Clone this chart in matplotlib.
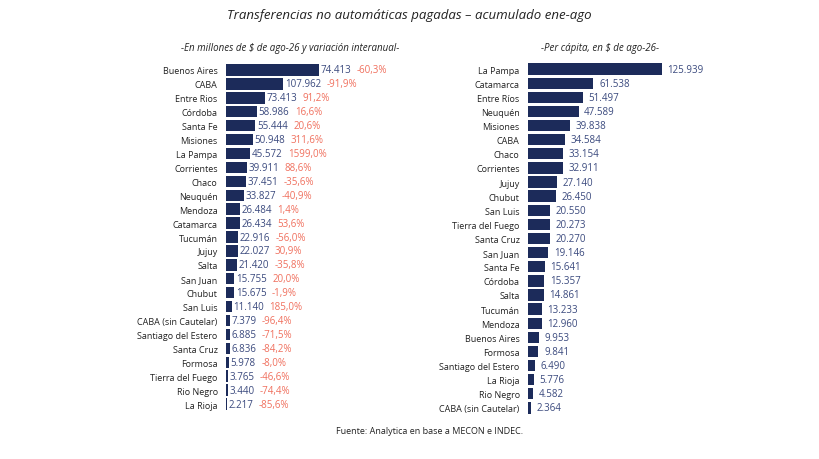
import matplotlib
matplotlib.use("Agg")
import matplotlib.pyplot as plt
from matplotlib.transforms import offset_copy

left_cats = ["Buenos Aires","CABA","Entre Rios","Córdoba","Santa Fe","Misiones","La Pampa","Corrientes","Chaco","Neuquén","Mendoza","Catamarca","Tucumán","Jujuy","Salta","San Juan","Chubut","San Luis","CABA (sin Cautelar)","Santiago del Estero","Santa Cruz","Formosa","Tierra del Fuego","Rio Negro","La Rioja"]
left_vals = [174.413,107.962,73.413,58.986,55.444,50.948,45.572,39.911,37.451,33.827,26.484,26.434,22.916,22.027,21.420,15.755,15.675,11.140,7.379,6.885,6.836,5.978,3.765,3.440,2.217]
left_labels = ["74.413","107.962","73.413","58.986","55.444","50.948","45.572","39.911","37.451","33.827","26.484","26.434","22.916","22.027","21.420","15.755","15.675","11.140","7.379","6.885","6.836","5.978","3.765","3.440","2.217"]
left_var = ["-60,3%","-91,9%","91,2%","16,6%","20,6%","311,6%","1599,0%","88,6%","-35,6%","-40,9%","1,4%","53,6%","-56,0%","30,9%","-35,8%","20,0%","-1,9%","185,0%","-96,4%","-71,5%","-84,2%","-8,0%","-46,6%","-74,4%","-85,6%"]

right_cats = ["La Pampa","Catamarca","Entre Ríos","Neuquén","Misiones","CABA","Chaco","Corrientes","Jujuy","Chubut","San Luis","Tierra del Fuego","Santa Cruz","San Juan","Santa Fe","Córdoba","Salta","Tucumán","Mendoza","Buenos Aires","Formosa","Santiago del Estero","La Rioja","Rio Negro","CABA (sin Cautelar)"]
right_vals = [125.939,61.538,51.497,47.589,39.838,34.584,33.154,32.911,27.140,26.450,20.550,20.273,20.270,19.146,15.641,15.357,14.861,13.233,12.960,9.953,9.841,6.490,5.776,4.582,2.364]

NAVY = "#1c2b5a"
VALC = "#3b4a7e"
PCT = "#f0705e"
plt.rcParams['font.family'] = ['Open Sans', 'DejaVu Sans']

fig = plt.figure(figsize=(8.19, 4.6), dpi=100)
fig.text(0.5, 1-15/460, "Transferencias no automáticas pagadas – acumulado ene-ago", ha="center", va="center", fontsize=9.5, style="italic", color="#222")
fig.text(290/819, 1-48/460, "-En millones de $ de ago-26 y variación interanual-", ha="center", va="center", fontsize=7, style="italic", color="#222")
fig.text(600/819, 1-48/460, "-Per cápita, en $ de ago-26-", ha="center", va="center", fontsize=7, style="italic", color="#222")
fig.text(430/819, 1-432/460, "Fuente: Analytica en base a MECON e INDEC.", ha="center", va="center", fontsize=6.5, color="#222")

def setup(ax, cats):
    ax.set_ylim(len(cats)-0.5, -0.5)
    ax.set_yticks(range(len(cats)))
    ax.set_yticklabels(cats, fontsize=6.5, color="#222")
    ax.tick_params(axis="y", length=0, pad=6)
    ax.set_xticks([])
    for s in ax.spines.values():
        s.set_visible(False)

ax1 = fig.add_axes([226/819, 1-412/460, 194/819, 348/460])
ax1.barh(range(len(left_vals)), left_vals, height=0.82, color=NAVY)
setup(ax1, left_cats)
ax1.set_xlim(0, 365)
fig.canvas.draw()
r = fig.canvas.get_renderer()
for i, (v, l, p) in enumerate(zip(left_vals, left_labels, left_var)):
    t = ax1.text(v, i, l, transform=offset_copy(ax1.transData, fig, x=1, y=0, units="points"), va="center", ha="left", fontsize=7, color=VALC)
    bb = t.get_window_extent(r)
    x = ax1.transData.inverted().transform((bb.x1, 0))[0]
    ax1.text(x, i, p, transform=offset_copy(ax1.transData, fig, x=4, y=0, units="points"), va="center", ha="left", fontsize=7, color=PCT)

ax2 = fig.add_axes([528/819, 1-416/460, 272/819, 353/460])
ax2.barh(range(len(right_vals)), right_vals, height=0.8, color=NAVY)
setup(ax2, right_cats)
ax2.set_xlim(0, 255.6)
for i, v in enumerate(right_vals):
    ax2.text(v, i, f"{v:.3f}", transform=offset_copy(ax2.transData, fig, x=4, y=0, units="points"), va="center", ha="left", fontsize=7, color=VALC)

fig.savefig("out.png", dpi=100)
